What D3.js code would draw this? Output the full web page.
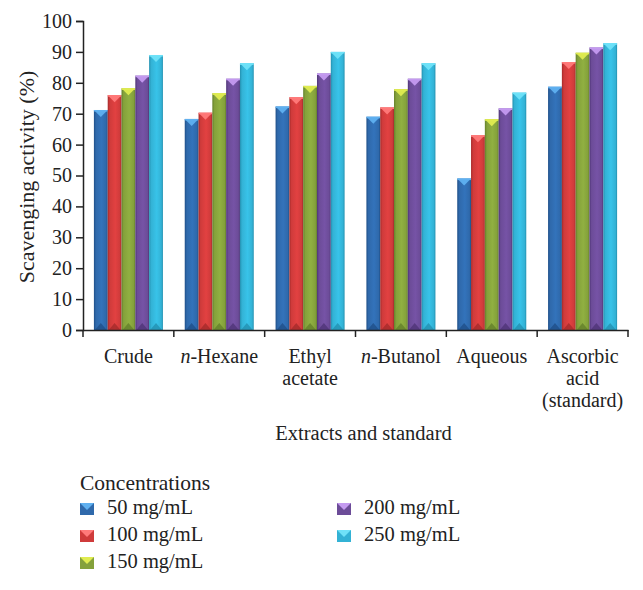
<!DOCTYPE html>
<html><head><meta charset="utf-8">
<script src="https://cdn.jsdelivr.net/npm/d3@7"></script>
<style>body{margin:0;background:#fff}svg{display:block}svg text{font-family:'Liberation Serif','Times New Roman','DejaVu Serif',serif !important;fill:#222}</style>
</head><body><svg id="c" width="643" height="590"></svg>
<script>
const categories = [["Crude"],["n-Hexane"],["Ethyl","acetate"],["n-Butanol"],["Aqueous"],["Ascorbic","acid","(standard)"]];
const seriesNames = ["50 mg/mL","100 mg/mL","150 mg/mL","200 mg/mL","250 mg/mL"];
const s50  = [71.2, 68.3, 72.3, 69.0, 49.0, 78.7];
const s100 = [76.0, 70.3, 75.3, 72.0, 63.0, 86.7];
const s150 = [78.2, 76.6, 79.0, 77.9, 68.2, 89.7];
const s200 = [82.3, 81.3, 83.0, 81.3, 71.7, 91.4];
const s250 = [89.0, 86.3, 90.0, 86.3, 76.8, 92.8];
const yTicks = [0,10,20,30,40,50,60,70,80,90,100];
const series = [s50,s100,s150,s200,s250];
const colors = ["#2f69ab","#cf3b3b","#84a13b","#6c4c98","#33b2d5"];
const dark = ["#1f4f88","#a52a2a","#63802a","#4f3577","#2390b0"];
const light = ["#5fb0f0","#ff7a7a","#e0ec50","#c49af0","#6fe2f8"];
const FONT = "'Liberation Serif','Times New Roman','DejaVu Serif',serif";

const svg = d3.select("#c");
const L=83, R=628, T=21, B=330;
const x = d3.scaleBand().domain(d3.range(categories.length)).range([L,R]).paddingInner(0).paddingOuter(0);
const xi = d3.scaleBand().domain(d3.range(series.length)).range([0,x.bandwidth()]).paddingInner(0).paddingOuter(0.79);
const y = d3.scaleLinear().domain([0,100]).range([B,T]);

const defs = svg.append("defs");
colors.forEach((c,i)=>{
  const g = defs.append("linearGradient").attr("id","g"+i).attr("x1","0").attr("x2","1").attr("y1","0").attr("y2","0");
  g.append("stop").attr("offset","0").attr("stop-color",dark[i]);
  g.append("stop").attr("offset","0.15").attr("stop-color",c);
  g.append("stop").attr("offset","0.55").attr("stop-color",d3.color(c).brighter(0.25));
  g.append("stop").attr("offset","0.88").attr("stop-color",c);
  g.append("stop").attr("offset","1").attr("stop-color",dark[i]);
});

const gb = svg.append("g");
series.forEach((s,si)=>{
  s.forEach((v,ci)=>{
    const x0 = x(ci)+xi(si), w = xi.bandwidth(), y0 = y(v);
    gb.append("rect").attr("x",x0).attr("y",y0).attr("width",w).attr("height",B-y0).attr("fill","url(#g"+si+")");
    gb.append("path").attr("d",`M${x0},${y0}L${x0+w},${y0}L${x0+w/2},${y0+7}Z`).attr("fill",light[si]).attr("opacity",0.95);
    gb.append("path").attr("d",`M${x0},${y0}L${x0+w},${y0}L${x0+w},${y0+1.5}L${x0},${y0+1.5}Z`).attr("fill",light[si]);
    gb.append("path").attr("d",`M${x0+1},${B}L${x0+w-1},${B}L${x0+w/2},${B-7}Z`).attr("fill",dark[si]).attr("opacity",0.8);
  });
});

// y axis
const ya = svg.append("g").attr("transform",`translate(${L},0)`)
  .call(d3.axisLeft(y).tickValues(yTicks).tickSize(7).tickPadding(4));
ya.attr("font-family",FONT);
ya.select(".domain").attr("stroke","#222").attr("stroke-width",1.5);
ya.selectAll(".tick line").attr("stroke","#222").attr("stroke-width",1.5);
ya.selectAll(".tick text").attr("font-size",20).attr("fill","#222");

// x axis line & ticks
const xa = svg.append("g").attr("transform",`translate(0,${B})`)
  .call(d3.axisBottom(x).tickSize(0).tickFormat(""));
xa.select(".domain").attr("stroke","#222").attr("stroke-width",1.5);
const bounds = d3.range(categories.length+1).map(i=> i<categories.length ? x(i) : x(i-1)+x.bandwidth());
svg.append("g").selectAll("line").data(bounds).join("line")
  .attr("x1",d=>d).attr("x2",d=>d).attr("y1",B).attr("y2",B+7).attr("stroke","#222").attr("stroke-width",1.5);

function txt(sel){ return sel.attr("font-family",FONT).attr("fill","#222"); }

// category labels
categories.forEach((lines,ci)=>{
  const cx = x(ci)+x.bandwidth()/2;
  lines.forEach((ln,li)=>{
    const t = txt(svg.append("text")).attr("x",cx).attr("y",363+li*22).attr("text-anchor","middle").attr("font-size",20);
    if(ln.startsWith("n-")){
      t.append("tspan").attr("font-style","italic").text("n");
      t.append("tspan").text(ln.slice(1));
    } else t.text(ln);
  });
});

txt(svg.append("text")).attr("x",(L+R)/2+8).attr("y",440).attr("text-anchor","middle").attr("font-size",20.5).text("Extracts and standard");
txt(svg.append("text")).attr("transform",`translate(34,177) rotate(-90)`).attr("text-anchor","middle").attr("font-size",22).text("Scavenging activity (%)");

// legend
txt(svg.append("text")).attr("x",80).attr("y",490).attr("font-size",21.5).text("Concentrations");
const pos = [[80,509],[80,536],[80,563],[337,509],[337,536]];
seriesNames.forEach((n,i)=>{
  const [lx,ly]=pos[i];
  const w=14, h=12;
  svg.append("rect").attr("x",lx).attr("y",ly-h/2).attr("width",w).attr("height",h).attr("fill",colors[i]);
  svg.append("path").attr("d",`M${lx},${ly-h/2}L${lx+w},${ly-h/2}L${lx+w/2},${ly+1}Z`).attr("fill",light[i]);
  txt(svg.append("text")).attr("x",lx+27).attr("y",ly+5).attr("font-size",20.5).text(n);
});
</script></body></html>
